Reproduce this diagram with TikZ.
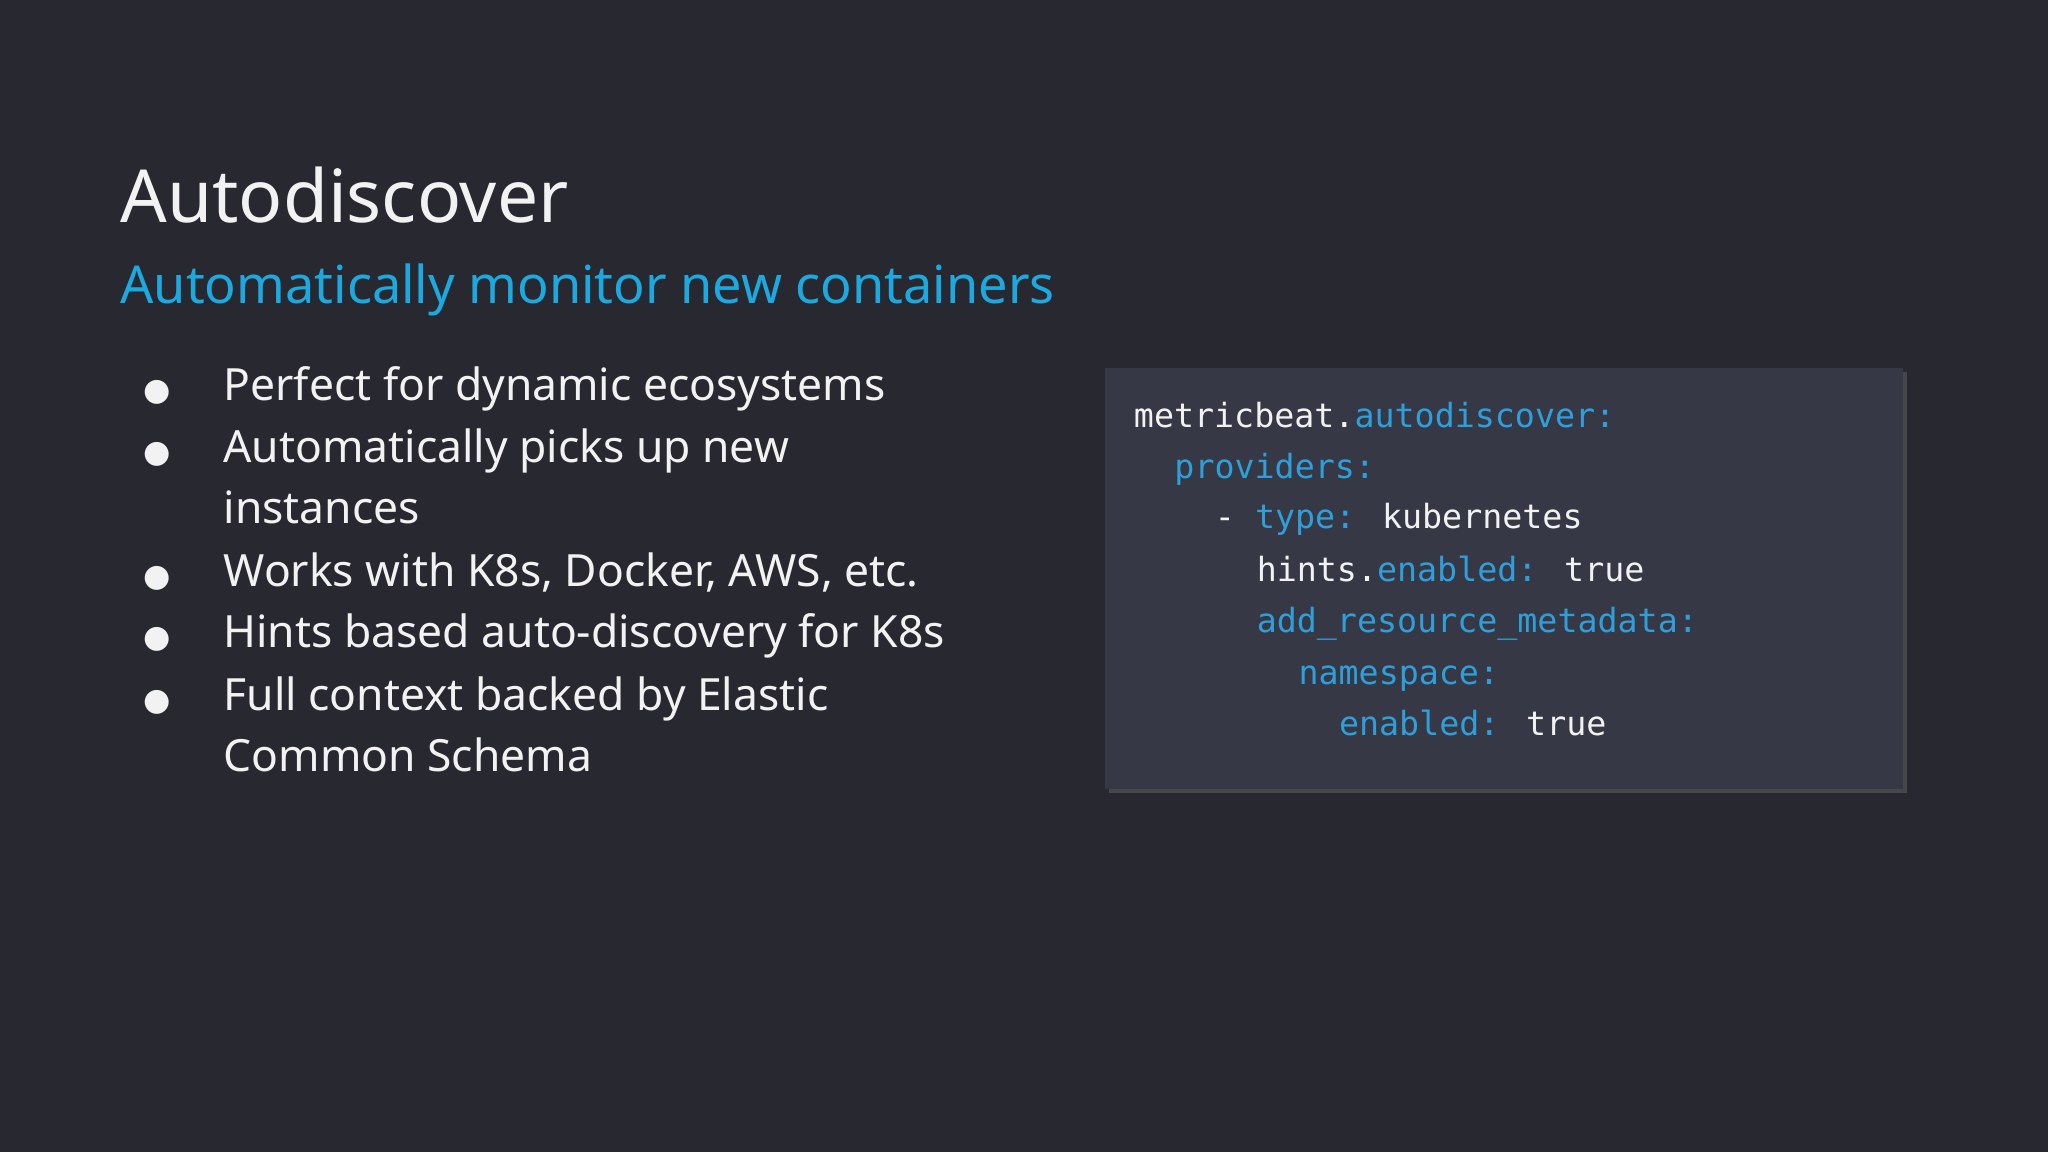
\documentclass[tikz,border=0pt]{standalone}
\usepackage{fontspec}
\setmainfont{Noto Sans}
\newfontfamily\codefont{DejaVu Sans Mono}
\newfontfamily\symfont{DejaVu Sans}
\definecolor{bg}{HTML}{272830}
\definecolor{box}{HTML}{363945}
\definecolor{sub}{HTML}{1BA9E0}
\definecolor{kw}{HTML}{2E9FDA}
\definecolor{fg}{HTML}{F2F2F2}
\begin{document}
\begin{tikzpicture}[x=1pt,y=-1pt,
  txt/.style={anchor=base west,inner sep=0,text=fg,font=\fontsize{34}{40}\selectfont},
  bul/.style={anchor=base west,inner sep=0,text=fg,font=\symfont\fontsize{24}{28}\selectfont},
  code/.style={anchor=base west,inner sep=0,text=fg,font=\codefont\fontsize{25.5}{30}\selectfont}]
\fill[bg] (0,0) rectangle (1568,882);
\useasboundingbox (0,0) rectangle (1568,882);
\node[txt,font=\bfseries\fontsize{56}{60}\selectfont] (title) at (92,170) {Autodiscover};
\node[txt,text=sub,font=\fontsize{40}{44}\selectfont] (subtitle) at (92,232) {Automatically monitor new containers};
\foreach \y/\n in {307/b1,354/b2,449/b3,496/b4,544/b5}{\node[bul] (\n) at (110,\y) {●};}
\node[txt] (t1) at (171,307) {Perfect for dynamic ecosystems};
\node[txt] (t2) at (171,354) {Automatically picks up new};
\node[txt] (t2b) at (171,401) {instances};
\node[txt] (t3) at (171,449) {Works with K8s, Docker, AWS, etc.};
\node[txt] (t4) at (171,496) {Hints based auto-discovery for K8s};
\node[txt] (t5) at (171,544) {Full context backed by Elastic};
\node[txt] (t5b) at (171,591) {Common Schema};
\fill[black!60,opacity=0.5] (849,285) rectangle (1460,607);
\fill[box] (846,282) rectangle (1457,604);
\node[code] (c1) at (868,327) {metricbeat.\textcolor{kw}{autodiscover:}};
\node[code] (c2) at (899,366) {\textcolor{kw}{providers:}};
\node[code] (c3) at (930,405) {- \textcolor{kw}{type:} kubernetes};
\node[code] (c4) at (962,445) {hints.\textcolor{kw}{enabled:} true};
\node[code] (c5) at (962,484) {\textcolor{kw}{add\_resource\_metadata:}};
\node[code] (c6) at (994,524) {\textcolor{kw}{namespace:}};
\node[code] (c7) at (1025,563) {\textcolor{kw}{enabled:} true};
\end{tikzpicture}
\end{document}
